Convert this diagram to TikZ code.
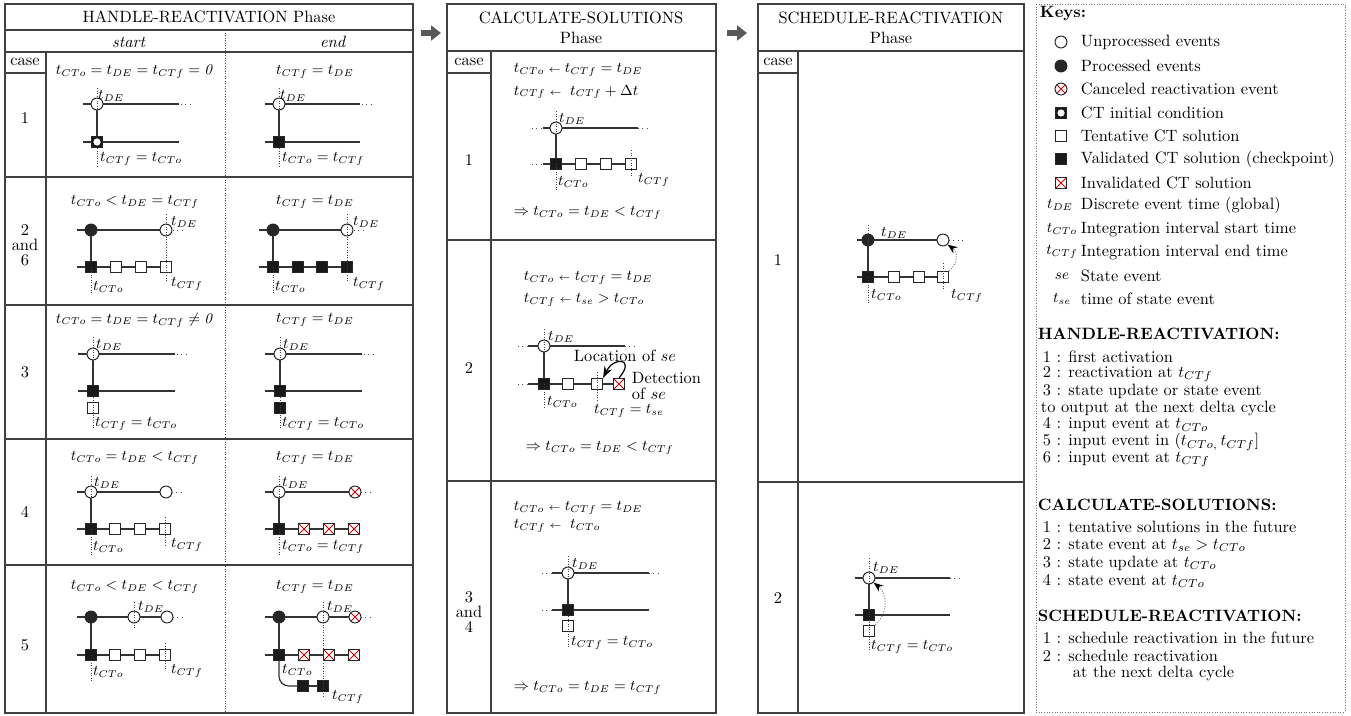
\documentclass[tikz,border=0pt]{standalone}
\usetikzlibrary{arrows.meta}
\begin{document}
\begin{tikzpicture}[x=0.61pt,y=-0.61pt,
 every node/.style={inner sep=1pt},
 tline/.style={line width=0.9pt, draw=black!75},
 ln/.style={line width=0.75pt, draw=black!80},
 vd/.style={densely dotted, line width=0.55pt, draw=black!75},
 hd/.style={dotted, line width=0.6pt, draw=black!70},
 ucirc/.style={circle, draw=black!85, fill=white, line width=0.6pt, minimum size=7.3pt, inner sep=0pt},
 pcirc/.style={ucirc, fill=black!85},
 redx/.style={path picture={\draw[red!85!black, line width=0.6pt] (path picture bounding box.north west) -- (path picture bounding box.south east) (path picture bounding box.north east) -- (path picture bounding box.south west);}},
 xcirc/.style={ucirc, redx},
 tsq/.style={rectangle, draw=black!85, fill=white, line width=0.6pt, minimum size=6.8pt, inner sep=0pt},
 vsq/.style={tsq, fill=black!90},
 xsq/.style={tsq, redx},
 icsq/.style={vsq, path picture={\fill[white] (path picture bounding box.center) circle (2.2pt);}},
 frm/.style={font=\small},
 lbl/.style={font=\small, anchor=west, inner sep=0.5pt},
 ttl/.style={font=\normalsize, align=center},
 stack/.style={align=center, font={\fontsize{10}{9}\selectfont}},
 keyt/.style={anchor=west},
 parr/.style={line width=3.2pt, draw=black!65, -{Triangle[length=6pt,width=9pt]}},
 sarr/.style={gray, densely dotted, line width=0.6pt, -{Stealth[black,length=6pt,width=4.5pt]}},
]
\useasboundingbox (0,0) rectangle (1351,715);

%================ LEFT PANEL =================
\draw[tline] (5,4) rectangle (413,713);
\draw[tline] (5,30) -- (413,30) (5,52) -- (413,52) (46,52) -- (46,713) (5,73) -- (46,73);
\foreach \yy in {177,305,439,565} \draw[tline] (5,\yy) -- (413,\yy);
\draw[vd] (225,30) -- (225,713);
\node[ttl] (hrTitle) at (209,17) {HANDLE-REACTIVATION Phase};
\node (hrStart) at (129,42) {\textit{start}};
\node (hrEnd) at (333,42) {\textit{end}};
\node (hrCase) at (25,62) {case};
\node (hr1) at (25,118) {1};
\node[stack] (hr2) at (25,245) {2\\and\\6};
\node (hr3) at (25,372) {3};
\node (hr4) at (25,512) {4};
\node (hr5) at (25,645) {5};

% case 1 start
\node[frm] (f1s) at (135,72) {$t_{CTo} = t_{DE} = t_{CTf} = \mathit{0}$};
\draw[ln] (83,104) -- (179,104) (83,142) -- (179,142);
\draw[hd] (181,104) -- (191,104);
\node[ucirc] (a1c) at (97,104) {};
\node[icsq] (a1s) at (97,142) {};
\draw[ln] (a1c) -- (a1s);
\draw[vd] (97,88) -- (97,112) (97,148) -- (97,168);
\node[lbl] (a1l1) at (97,96) {$t_{DE}$};
\node[lbl] (a1l2) at (99,159) {$t_{CTf} = t_{CTo}$};
% case 1 end
\node[frm] (f1e) at (315,72) {$t_{CTf} = t_{DE}$};
\draw[ln] (265,104) -- (360,104) (265,142) -- (360,142);
\draw[hd] (362,104) -- (372,104);
\node[ucirc] (b1c) at (279,104) {};
\node[vsq] (b1s) at (279,142) {};
\draw[ln] (b1c) -- (b1s);
\draw[vd] (279,88) -- (279,112) (279,148) -- (279,168);
\node[lbl] (b1l1) at (279,96) {$t_{DE}$};
\node[lbl] (b1l2) at (281,159) {$t_{CTo} = t_{CTf}$};

% case 2/6 start
\node[frm] (f2s) at (135,202) {$t_{CTo} < t_{DE} = t_{CTf}$};
\draw[ln] (77,230) -- (166,230) (77,267) -- (166,267);
\draw[hd] (173,230) -- (184,230);
\node[pcirc] (a2p) at (91,230) {};
\node[ucirc] (a2u) at (166,230) {};
\node[vsq] (a2s1) at (91,267) {};
\node[tsq] (a2s2) at (116,267) {};
\node[tsq] (a2s3) at (141,267) {};
\node[tsq] (a2s4) at (166,267) {};
\draw[ln] (a2p) -- (a2s1);
\draw[vd] (91,267) -- (91,293) (166,214) -- (166,281);
\node[lbl] (a2l1) at (170,222) {$t_{DE}$};
\node[lbl] (a2l2) at (92,287) {$t_{CTo}$};
\node[lbl] (a2l3) at (170,284) {$t_{CTf}$};
% case 2/6 end
\node[frm] (f2e) at (315,202) {$t_{CTf} = t_{DE}$};
\draw[ln] (259,230) -- (347,230) (259,267) -- (347,267);
\draw[hd] (354,230) -- (366,230);
\node[pcirc] (b2p) at (273,230) {};
\node[ucirc] (b2u) at (347,230) {};
\node[vsq] (b2s1) at (273,267) {};
\node[vsq] (b2s2) at (298,267) {};
\node[vsq] (b2s3) at (322,267) {};
\node[vsq] (b2s4) at (347,267) {};
\draw[ln] (b2p) -- (b2s1);
\draw[vd] (273,267) -- (273,293) (347,214) -- (347,281);
\node[lbl] (b2l1) at (352,222) {$t_{DE}$};
\node[lbl] (b2l2) at (274,287) {$t_{CTo}$};
\node[lbl] (b2l3) at (352,284) {$t_{CTf}$};

% case 3 start
\node[frm] (f3s) at (135,320) {$t_{CTo} = t_{DE} = t_{CTf} \neq \mathit{0}$};
\draw[ln] (78,354) -- (175,354) (78,391) -- (175,391);
\draw[hd] (177,354) -- (186,354);
\node[ucirc] (a3c) at (93,354) {};
\node[vsq] (a3s) at (93,391) {};
\node[tsq] (a3t) at (93,408) {};
\draw[ln] (a3c) -- (a3s);
\draw[vd] (93,337) -- (93,362) (93,397) -- (93,430);
\node[lbl] (a3l1) at (95,345) {$t_{DE}$};
\node[lbl] (a3l2) at (94,424) {$t_{CTf} = t_{CTo}$};
% case 3 end
\node[frm] (f3e) at (315,320) {$t_{CTf} = t_{DE}$};
\draw[ln] (265,354) -- (362,354) (265,391) -- (362,391);
\draw[hd] (364,354) -- (373,354);
\node[ucirc] (b3c) at (280,354) {};
\node[vsq] (b3s) at (280,391) {};
\node[vsq] (b3t) at (280,408) {};
\draw[ln] (b3c) -- (b3s);
\draw[vd] (280,337) -- (280,362) (280,397) -- (280,430);
\node[lbl] (b3l1) at (282,345) {$t_{DE}$};
\node[lbl] (b3l2) at (281,424) {$t_{CTf} = t_{CTo}$};

% case 4 start
\node[frm] (f4s) at (135,458) {$t_{CTo} = t_{DE} < t_{CTf}$};
\draw[ln] (77,492) -- (166,492) (77,529) -- (165,529);
\draw[hd] (172,492) -- (183,492);
\node[ucirc] (a4c) at (91,492) {};
\node[ucirc] (a4u) at (166,492) {};
\node[vsq] (a4s1) at (91,529) {};
\node[tsq] (a4s2) at (115,529) {};
\node[tsq] (a4s3) at (140,529) {};
\node[tsq] (a4s4) at (165,529) {};
\draw[ln] (a4c) -- (a4s1);
\draw[vd] (91,476) -- (91,500) (91,529) -- (91,555) (165,517) -- (165,545);
\node[lbl] (a4l1) at (93,483) {$t_{DE}$};
\node[lbl] (a4l2) at (92,547) {$t_{CTo}$};
\node[lbl] (a4l3) at (170,545) {$t_{CTf}$};
% case 4 end
\node[frm] (f4e) at (315,458) {$t_{CTf} = t_{DE}$};
\draw[ln] (265,492) -- (355,492) (265,529) -- (354,529);
\draw[hd] (361,492) -- (372,492);
\node[ucirc] (b4c) at (279,492) {};
\node[xcirc] (b4x) at (355,492) {};
\node[vsq] (b4s1) at (279,529) {};
\node[xsq] (b4s2) at (304,529) {};
\node[xsq] (b4s3) at (329,529) {};
\node[xsq] (b4s4) at (354,529) {};
\draw[ln] (b4c) -- (b4s1);
\draw[vd] (279,476) -- (279,500) (279,529) -- (279,555);
\node[lbl] (b4l1) at (281,483) {$t_{DE}$};
\node[lbl] (b4l2) at (281,547) {$t_{CTo} = t_{CTf}$};

% case 5 start
\node[frm] (f5s) at (135,587) {$t_{CTo} < t_{DE} < t_{CTf}$};
\draw[ln] (77,617) -- (167,617) (77,655) -- (165,655);
\draw[hd] (173,617) -- (184,617);
\node[pcirc] (a5p) at (91,617) {};
\node[ucirc] (a5m) at (134,617) {};
\node[ucirc] (a5u) at (167,617) {};
\node[vsq] (a5s1) at (91,655) {};
\node[tsq] (a5s2) at (115,655) {};
\node[tsq] (a5s3) at (140,655) {};
\node[tsq] (a5s4) at (165,655) {};
\draw[ln] (a5p) -- (a5s1);
\draw[vd] (134,602) -- (134,629) (91,655) -- (91,681) (165,643) -- (165,669);
\node[lbl] (a5l1) at (137,607) {$t_{DE}$};
\node[lbl] (a5l2) at (92,672) {$t_{CTo}$};
\node[lbl] (a5l3) at (170,671) {$t_{CTf}$};
% case 5 end
\node[frm] (f5e) at (315,587) {$t_{CTf} = t_{DE}$};
\draw[ln] (265,617) -- (355,617) (265,655) -- (354,655);
\draw[hd] (361,617) -- (372,617);
\node[pcirc] (b5p) at (279,617) {};
\node[ucirc] (b5m) at (323,617) {};
\node[xcirc] (b5x) at (355,617) {};
\node[vsq] (b5s1) at (279,655) {};
\node[xsq] (b5s2) at (304,655) {};
\node[xsq] (b5s3) at (329,655) {};
\node[xsq] (b5s4) at (354,655) {};
\node[vsq] (b5s5) at (303,686) {};
\node[vsq] (b5s6) at (323,686) {};
\draw[ln] (b5p) -- (b5s1);
\draw[ln, rounded corners=6pt] (b5s1.south) |- (b5s5.west);
\draw[ln] (b5s5) -- (b5s6);
\draw[vd] (323,602) -- (323,697);
\node[lbl] (b5l1) at (326,607) {$t_{DE}$};
\node[lbl] (b5l2) at (281,670) {$t_{CTo}$};
\node[lbl] (b5l3) at (331,697) {$t_{CTf}$};

%================ ARROWS BETWEEN PANELS =================
\coordinate (ar1a) at (421,33); \coordinate (ar1b) at (441,33);
\coordinate (ar2a) at (727,33); \coordinate (ar2b) at (747,33);
\draw[parr] (ar1a) -- (ar1b);
\draw[parr] (ar2a) -- (ar2b);

%================ MIDDLE PANEL =================
\draw[tline] (447,4) rectangle (716,713);
\draw[tline] (447,51) -- (716,51) (491,51) -- (491,713) (447,73) -- (491,73) (447,240) -- (716,240) (447,481) -- (716,481);
\node[ttl] (csTitle) at (581,28) {CALCULATE-SOLUTIONS\\Phase};
\node (csCase) at (469,62) {case};
\node (cs1) at (469,160) {1};
\node (cs2) at (469,368) {2};
\node[stack] (cs3) at (469,612) {3\\and\\4};

% case 1
\node[frm, anchor=west] (m1f1) at (512,70) {$t_{CTo} \mathrel{\scriptstyle\leftarrow} t_{CTf} = t_{DE}$};
\node[frm, anchor=west] (m1f2) at (512,92) {$t_{CTf} \mathrel{\scriptstyle\leftarrow}\; t_{CTf} + \Delta t$};
\draw[hd] (532,128) -- (543,128) (638,128) -- (649,128) (532,164) -- (543,164);
\draw[ln] (543,128) -- (638,128) (543,164) -- (631,164);
\node[ucirc] (m1c) at (556,128) {};
\node[vsq] (m1s1) at (556,164) {};
\node[tsq] (m1s2) at (581,164) {};
\node[tsq] (m1s3) at (606,164) {};
\node[tsq] (m1s4) at (631,164) {};
\draw[ln] (m1c) -- (m1s1);
\draw[vd] (556,111) -- (556,136) (556,164) -- (556,191) (631,150) -- (631,176);
\node[lbl] (m1l1) at (558,119) {$t_{DE}$};
\node[lbl] (m1l2) at (557,182) {$t_{CTo}$};
\node[lbl] (m1l3) at (637,180) {$t_{CTf}$};
\node[frm, anchor=west] (m1r) at (512,213) {$\Rightarrow t_{CTo} = t_{DE} < t_{CTf}$};

% case 2
\node[frm, anchor=west] (m2f1) at (522,278) {$t_{CTo} \mathrel{\scriptstyle\leftarrow} t_{CTf} = t_{DE}$};
\node[frm, anchor=west] (m2f2) at (522,300) {$t_{CTf} \mathrel{\scriptstyle\leftarrow} t_{se} > t_{CTo}$};
\draw[hd] (518,346) -- (528,346) (625,346) -- (636,346) (518,384) -- (528,384);
\draw[ln] (528,346) -- (625,346) (528,384) -- (619,384);
\node[ucirc] (m2c) at (544,346) {};
\node[vsq] (m2s1) at (544,384) {};
\node[tsq] (m2s2) at (568,384) {};
\node[tsq] (m2s3) at (597,384) {};
\node[xsq] (m2s4) at (619,384) {};
\draw[ln] (m2c) -- (m2s1);
\draw[vd] (544,329) -- (544,353) (544,384) -- (544,408) (597,372) -- (597,400);
\node[lbl] (m2l1) at (547,337) {$t_{DE}$};
\node[lbl] (m2l2) at (546,402) {$t_{CTo}$};
\node[lbl] (m2l3) at (593,411) {$t_{CTf} = t_{se}$};
\node[anchor=west] (m2loc) at (572,356) {Location of $se$};
\node[anchor=west, align=left, font={\fontsize{10}{9.8}\selectfont}] (m2det) at (630,386) {Detection\\of $se$};
\draw[line width=0.75pt, black, -{Stealth[length=7pt,width=5pt]}] (m2s4.north) .. controls (636,358) and (614,356) .. (m2s3.north east);
\node[frm, anchor=west] (m2r) at (524,448) {$\Rightarrow t_{CTo} = t_{DE} < t_{CTf}$};

% case 3 and 4
\node[frm, anchor=west] (m3f1) at (512,508) {$t_{CTo} \mathrel{\scriptstyle\leftarrow} t_{CTf} = t_{DE}$};
\node[frm, anchor=west] (m3f2) at (512,526) {$t_{CTf} \mathrel{\scriptstyle\leftarrow}\; t_{CTo}$};
\draw[hd] (542,573) -- (552,573) (649,573) -- (660,573) (542,610) -- (552,610);
\draw[ln] (552,573) -- (649,573) (552,610) -- (649,610);
\node[ucirc] (m3c) at (568,573) {};
\node[vsq] (m3s) at (568,610) {};
\node[tsq] (m3t) at (568,626) {};
\draw[ln] (m3c) -- (m3s);
\draw[vd] (568,556) -- (568,581) (568,616) -- (568,647);
\node[lbl] (m3l1) at (571,564) {$t_{DE}$};
\node[lbl] (m3l2) at (570,643) {$t_{CTf} = t_{CTo}$};
\node[frm, anchor=west] (m3r) at (512,688) {$\Rightarrow t_{CTo} = t_{DE} = t_{CTf}$};

%================ RIGHT PANEL =================
\draw[tline] (758,4) rectangle (1024,713);
\draw[tline] (758,51) -- (1024,51) (798,51) -- (798,713) (758,73) -- (798,73) (758,482) -- (1024,482);
\node[ttl] (srTitle) at (891,28) {SCHEDULE-REACTIVATION\\Phase};
\node (srCase) at (778,62) {case};
\node (sr1) at (778,260) {1};
\node (sr2) at (778,598) {2};

% case 1
\draw[ln] (857,240) -- (943,240) (857,277) -- (943,277);
\draw[hd] (949,240) -- (962,240);
\node[pcirc] (r1p) at (868,240) {};
\node[ucirc] (r1u) at (943,240) {};
\node[vsq] (r1s1) at (868,277) {};
\node[tsq] (r1s2) at (894,277) {};
\node[tsq] (r1s3) at (919,277) {};
\node[tsq] (r1s4) at (943,277) {};
\draw[ln] (r1p) -- (r1s1);
\draw[vd] (868,225) -- (868,248) (868,277) -- (868,303) (943,263) -- (943,290);
\node[lbl] (r1l1) at (880,233) {$t_{DE}$};
\node[lbl] (r1l2) at (870,295) {$t_{CTo}$};
\node[lbl] (r1l3) at (950,296) {$t_{CTf}$};
\draw[sarr] (r1s4.north east) .. controls (958,264) and (958,252) .. (r1u.south east);

% case 2
\draw[ln] (855,578) -- (950,578) (855,615) -- (950,615);
\draw[hd] (950,578) -- (962,578);
\node[ucirc] (r2u) at (869,578) {};
\node[vsq] (r2s) at (869,615) {};
\node[tsq] (r2t) at (869,631) {};
\draw[ln] (r2u) -- (r2s);
\draw[vd] (869,558) -- (869,652);
\node[lbl] (r2l1) at (872,568) {$t_{DE}$};
\node[lbl] (r2l2) at (870,647) {$t_{CTf} = t_{CTo}$};
\draw[sarr] (r2t.north east) .. controls (888,614) and (888,594) .. (r2u.south east);

%================ KEYS =================
\draw[densely dotted, black!55, line width=0.6pt] (1036,4) rectangle (1345,712);
\node[keyt, font=\bfseries] (kTitle) at (1038,14) {Keys:};
\node[ucirc] (k1) at (1061,42) {};
\node[pcirc] (k2) at (1061,66) {};
\node[xcirc] (k3) at (1061,89) {};
\node[icsq] (k4) at (1061,113) {};
\node[tsq] (k5) at (1061,136) {};
\node[vsq] (k6) at (1061,159) {};
\node[xsq] (k7) at (1061,183) {};
\node[font=\small] (k8) at (1060,205) {$t_{DE}$};
\node[font=\small] (k9) at (1062,229) {$t_{CTo}$};
\node[font=\small] (k10) at (1062,252) {$t_{CTf}$};
\node[font=\small] (k11) at (1062,276) {$se$};
\node[font=\small] (k12) at (1062,299) {$t_{se}$};
\node[keyt] (kt1) at (1079,42) {Unprocessed events};
\node[keyt] (kt2) at (1079,66) {Processed events};
\node[keyt] (kt3) at (1079,89) {Canceled reactivation event};
\node[keyt] (kt4) at (1079,113) {CT initial condition};
\node[keyt] (kt5) at (1079,136) {Tentative CT solution};
\node[keyt] (kt6) at (1079,159) {Validated CT solution (checkpoint)};
\node[keyt] (kt7) at (1079,183) {Invalidated CT solution};
\node[keyt] (kt8) at (1079,205) {Discrete event time (global)};
\node[keyt] (kt9) at (1079,229) {Integration interval start time};
\node[keyt] (kt10) at (1079,252) {Integration interval end time};
\node[keyt] (kt11) at (1079,276) {State event};
\node[keyt] (kt12) at (1079,299) {time of state event};

\node[keyt, font=\bfseries] (hH) at (1036,334) {HANDLE-REACTIVATION:};
\node[keyt] (h1) at (1041,357) {1 : first activation};
\node[keyt] (h2) at (1041,374) {2 : reactivation at $t_{CTf}$};
\node[keyt] (h3) at (1041,391) {3 : state update or state event};
\node[keyt] (h3b) at (1039,408) {to output at the next delta cycle};
\node[keyt] (h4) at (1041,425) {4 : input event at $t_{CTo}$};
\node[keyt] (h5) at (1041,442) {5 : input event in $(t_{CTo,}\, t_{CTf}]$};
\node[keyt] (h6) at (1041,459) {6 : input event at $t_{CTf}$};

\node[keyt, font=\bfseries] (cH) at (1036,505) {CALCULATE-SOLUTIONS:};
\node[keyt] (c1) at (1041,527) {1 : tentative solutions in the future};
\node[keyt] (c2) at (1041,545) {2 : state event at $t_{se} > t_{CTo}$};
\node[keyt] (c3) at (1041,563) {3 : state update at $t_{CTo}$};
\node[keyt] (c4) at (1041,581) {4 : state event at $t_{CTo}$};

\node[keyt, font=\bfseries] (sH) at (1036,616) {SCHEDULE-REACTIVATION:};
\node[keyt] (s1) at (1041,638) {1 : schedule reactivation in the future};
\node[keyt] (s2) at (1041,656) {2 : schedule reactivation};
\node[keyt] (s2b) at (1071,673) {at the next delta cycle};
\end{tikzpicture}
\end{document}
